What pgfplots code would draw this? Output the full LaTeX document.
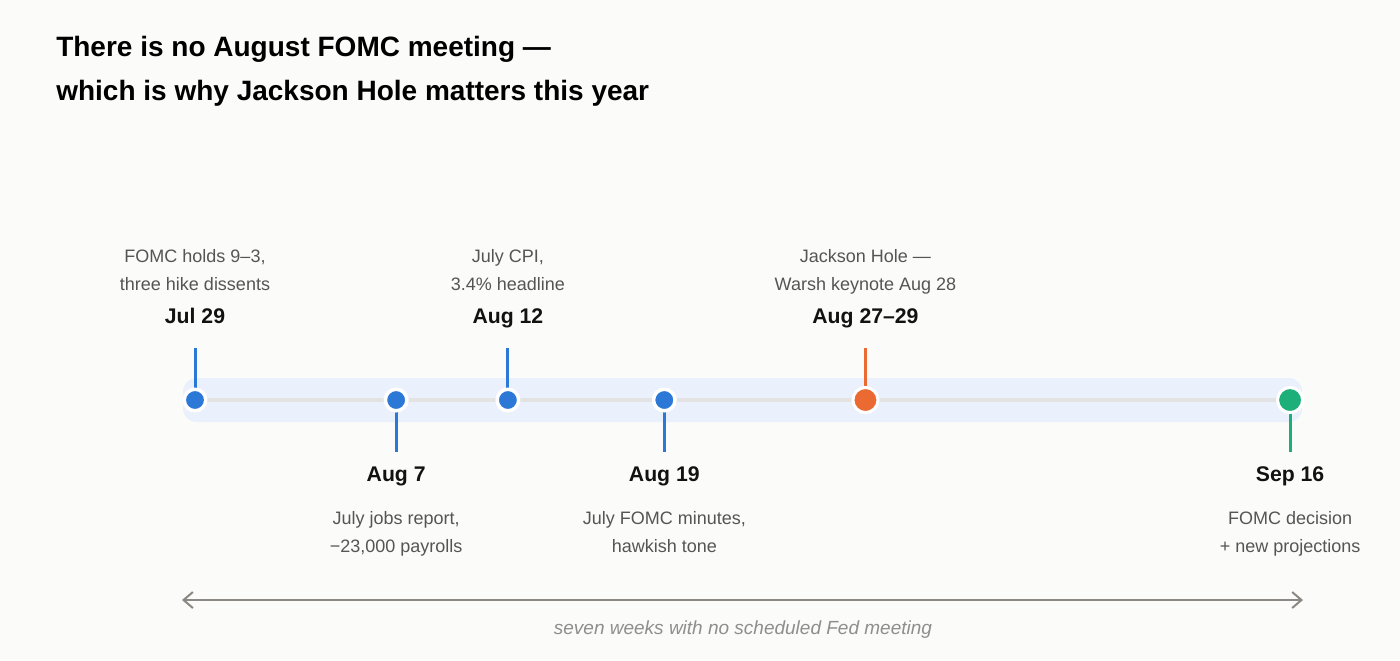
\documentclass[border=0pt]{standalone}
\usepackage{pgfplots}
\pgfplotsset{compat=1.18}
\usepackage{fontspec}
\setmainfont{Liberation Sans}
\usetikzlibrary{arrows.meta}

\definecolor{bgcol}{HTML}{FBFBF9}
\definecolor{band}{HTML}{EAF0FC}
\definecolor{track}{HTML}{E4E3E3}
\definecolor{evblue}{HTML}{2C78D6}
\definecolor{evorange}{HTML}{EB6A32}
\definecolor{evgreen}{HTML}{1DAF7A}
\definecolor{desc}{HTML}{555555}
\definecolor{arrowgray}{HTML}{8C8883}
\definecolor{capgray}{HTML}{8E8E8E}

% x = days after Jul 29, y = pixel rows (top = 0)
\tikzset{
  desc/.style={anchor=base, text=desc, font=\fontsize{13.5}{15}\selectfont},
  date/.style={anchor=base, text=black!93, font=\fontsize{15.9}{18}\selectfont\bfseries},
}

\begin{document}
\begin{tikzpicture}
\begin{axis}[
  scale only axis, width=1050pt, height=495pt,
  xmin=-8.726, xmax=53.92, ymin=0, ymax=660, y dir=reverse,
  hide axis, clip=false,
]
% background
\fill[bgcol] (rel axis cs:0,0) rectangle (rel axis cs:1,1);

% title
\node[anchor=base west, inner xsep=0pt, font=\fontsize{21}{24}\selectfont\bfseries]
  at (axis cs:-6.22,56) {There is no August FOMC meeting —};
\node[anchor=base west, inner xsep=0pt, font=\fontsize{21}{24}\selectfont\bfseries]
  at (axis cs:-6.22,100) {which is why Jackson Hole matters this year};

% band and track
\fill[band, rounded corners=10pt] (axis cs:-0.537,378) rectangle (axis cs:49.54,422);
\addplot[track, line width=3pt] coordinates {(0,400) (49,400)};

% stems
\addplot[evblue, line width=2.25pt] coordinates {(0,348) (0,392)};
\addplot[evblue, line width=2.25pt] coordinates {(14,348) (14,392)};
\addplot[evorange, line width=2.25pt] coordinates {(30,348) (30,392)};
\addplot[evblue, line width=2.25pt] coordinates {(9,408) (9,452)};
\addplot[evblue, line width=2.25pt] coordinates {(21,408) (21,452)};
\addplot[evgreen, line width=2.25pt] coordinates {(49,408) (49,452)};

% markers
\addplot[only marks, mark=*, mark size=8.06pt,
  mark options={fill=evblue, draw=white, line width=2.6pt}]
  coordinates {(0,400) (9,400) (14,400) (21,400)};
\addplot[only marks, mark=*, mark size=9.4pt,
  mark options={fill=evorange, draw=white, line width=2.25pt}]
  coordinates {(30,400)};
\addplot[only marks, mark=*, mark size=9.4pt,
  mark options={fill=evgreen, draw=white, line width=2.25pt}]
  coordinates {(49,400)};

% labels above
\node[desc] at (axis cs:0,262) {FOMC holds 9–3,};
\node[desc] at (axis cs:0,290) {three hike dissents};
\node[date] at (axis cs:0,323.5) {Jul 29};
\node[desc] at (axis cs:14,262) {July CPI,};
\node[desc] at (axis cs:14,290) {3.4\% headline};
\node[date] at (axis cs:14,323.5) {Aug 12};
\node[desc] at (axis cs:30,262) {Jackson Hole —};
\node[desc] at (axis cs:30,290) {Warsh keynote Aug 28};
\node[date] at (axis cs:30,323.5) {Aug 27–29};

% labels below
\node[date] at (axis cs:9,481.5) {Aug 7};
\node[desc] at (axis cs:9,524) {July jobs report,};
\node[desc] at (axis cs:9,552) {−23,000 payrolls};
\node[date] at (axis cs:21,481.5) {Aug 19};
\node[desc] at (axis cs:21,524) {July FOMC minutes,};
\node[desc] at (axis cs:21,552) {hawkish tone};
\node[date] at (axis cs:49,481.5) {Sep 16};
\node[desc] at (axis cs:49,524) {FOMC decision};
\node[desc] at (axis cs:49,552) {+ new projections};

% span arrow
\draw[arrowgray, line width=1.5pt,
  {Straight Barb[length=7pt, width=12pt]}-{Straight Barb[length=7pt, width=12pt]}]
  (axis cs:-0.582,600) -- (axis cs:49.58,600);
\node[anchor=base, text=capgray, font=\fontsize{14.25}{16}\selectfont\itshape]
  at (axis cs:24.52,634) {seven weeks with no scheduled Fed meeting};
\end{axis}
\end{tikzpicture}
\end{document}
